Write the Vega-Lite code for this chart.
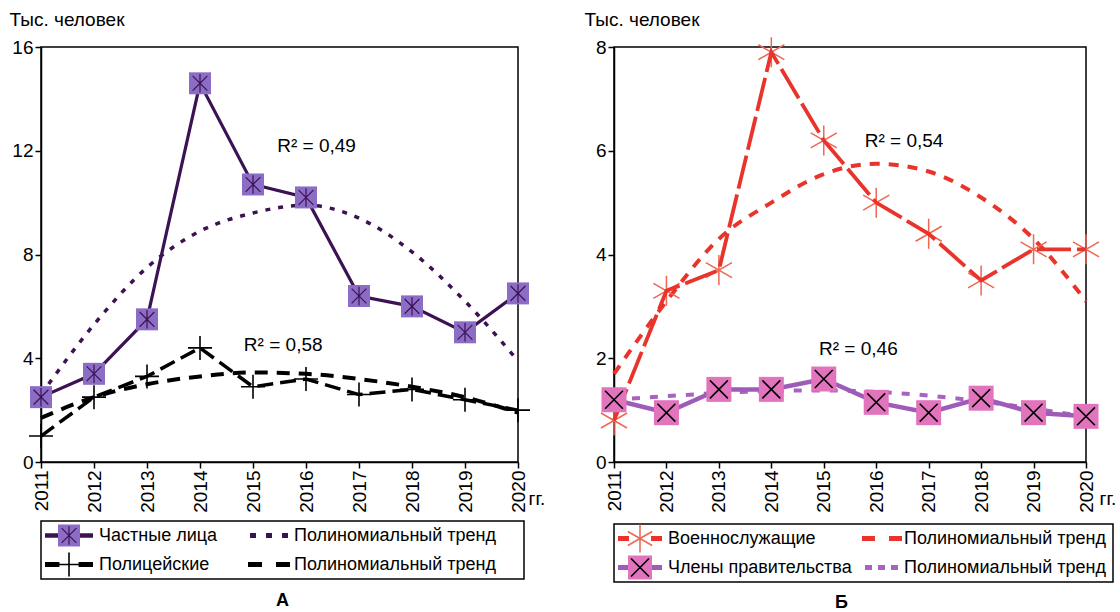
{
  "$schema": "https://vega.github.io/schema/vega-lite/v6.json",
  "background": "white",
  "padding": {"left": 8, "top": 9, "right": 0, "bottom": 0},
  "config": {
    "font": "Liberation Sans",
    "view": {"stroke": "black", "strokeWidth": 1.5},
    "axis": {
      "domainColor": "black", "domainWidth": 1.5,
      "tickColor": "black", "tickWidth": 1.5, "tickSize": 6,
      "labelColor": "black", "labelFontSize": 19, "labelPadding": 2, "labelFlush": false,
      "titleColor": "black", "titleFontSize": 19, "titleFontWeight": "normal",
      "grid": false
    },
    "text": {"font": "Liberation Sans", "color": "black"}
  },
  "datasets": {
    "panelA": [
      {"год": 2011, "ряд": "Частные лица", "тип": "данные", "значение": 2.5},
      {"год": 2012, "ряд": "Частные лица", "тип": "данные", "значение": 3.4},
      {"год": 2013, "ряд": "Частные лица", "тип": "данные", "значение": 5.5},
      {"год": 2014, "ряд": "Частные лица", "тип": "данные", "значение": 14.6},
      {"год": 2015, "ряд": "Частные лица", "тип": "данные", "значение": 10.7},
      {"год": 2016, "ряд": "Частные лица", "тип": "данные", "значение": 10.2},
      {"год": 2017, "ряд": "Частные лица", "тип": "данные", "значение": 6.4},
      {"год": 2018, "ряд": "Частные лица", "тип": "данные", "значение": 6.0},
      {"год": 2019, "ряд": "Частные лица", "тип": "данные", "значение": 5.0},
      {"год": 2020, "ряд": "Частные лица", "тип": "данные", "значение": 6.5},
      {"год": 2011, "ряд": "Частные лица", "тип": "тренд", "значение": 2.6},
      {"год": 2012, "ряд": "Частные лица", "тип": "тренд", "значение": 5.3},
      {"год": 2013, "ряд": "Частные лица", "тип": "тренд", "значение": 7.5},
      {"год": 2014, "ряд": "Частные лица", "тип": "тренд", "значение": 8.9},
      {"год": 2015, "ряд": "Частные лица", "тип": "тренд", "значение": 9.6},
      {"год": 2016, "ряд": "Частные лица", "тип": "тренд", "значение": 9.9},
      {"год": 2017, "ряд": "Частные лица", "тип": "тренд", "значение": 9.4},
      {"год": 2018, "ряд": "Частные лица", "тип": "тренд", "значение": 8.1},
      {"год": 2019, "ряд": "Частные лица", "тип": "тренд", "значение": 6.2},
      {"год": 2020, "ряд": "Частные лица", "тип": "тренд", "значение": 3.9},
      {"год": 2011, "ряд": "Полицейские", "тип": "данные", "значение": 1.0},
      {"год": 2012, "ряд": "Полицейские", "тип": "данные", "значение": 2.5},
      {"год": 2013, "ряд": "Полицейские", "тип": "данные", "значение": 3.3},
      {"год": 2014, "ряд": "Полицейские", "тип": "данные", "значение": 4.4},
      {"год": 2015, "ряд": "Полицейские", "тип": "данные", "значение": 2.9},
      {"год": 2016, "ряд": "Полицейские", "тип": "данные", "значение": 3.2},
      {"год": 2017, "ряд": "Полицейские", "тип": "данные", "значение": 2.6},
      {"год": 2018, "ряд": "Полицейские", "тип": "данные", "значение": 2.8},
      {"год": 2019, "ряд": "Полицейские", "тип": "данные", "значение": 2.4},
      {"год": 2020, "ряд": "Полицейские", "тип": "данные", "значение": 2.0},
      {"год": 2011, "ряд": "Полицейские", "тип": "тренд", "значение": 1.7},
      {"год": 2012, "ряд": "Полицейские", "тип": "тренд", "значение": 2.5},
      {"год": 2013, "ряд": "Полицейские", "тип": "тренд", "значение": 3.0},
      {"год": 2014, "ряд": "Полицейские", "тип": "тренд", "значение": 3.3},
      {"год": 2015, "ряд": "Полицейские", "тип": "тренд", "значение": 3.45},
      {"год": 2016, "ряд": "Полицейские", "тип": "тренд", "значение": 3.4},
      {"год": 2017, "ряд": "Полицейские", "тип": "тренд", "значение": 3.2},
      {"год": 2018, "ряд": "Полицейские", "тип": "тренд", "значение": 2.9},
      {"год": 2019, "ряд": "Полицейские", "тип": "тренд", "значение": 2.5},
      {"год": 2020, "ряд": "Полицейские", "тип": "тренд", "значение": 1.9}
    ],
    "panelB": [
      {"год": 2011, "ряд": "Военнослужащие", "тип": "данные", "значение": 0.8},
      {"год": 2012, "ряд": "Военнослужащие", "тип": "данные", "значение": 3.3},
      {"год": 2013, "ряд": "Военнослужащие", "тип": "данные", "значение": 3.7},
      {"год": 2014, "ряд": "Военнослужащие", "тип": "данные", "значение": 7.9},
      {"год": 2015, "ряд": "Военнослужащие", "тип": "данные", "значение": 6.2},
      {"год": 2016, "ряд": "Военнослужащие", "тип": "данные", "значение": 5.0},
      {"год": 2017, "ряд": "Военнослужащие", "тип": "данные", "значение": 4.4},
      {"год": 2018, "ряд": "Военнослужащие", "тип": "данные", "значение": 3.5},
      {"год": 2019, "ряд": "Военнослужащие", "тип": "данные", "значение": 4.1},
      {"год": 2020, "ряд": "Военнослужащие", "тип": "данные", "значение": 4.1},
      {"год": 2011, "ряд": "Военнослужащие", "тип": "тренд", "значение": 1.7},
      {"год": 2012, "ряд": "Военнослужащие", "тип": "тренд", "значение": 3.1},
      {"год": 2013, "ряд": "Военнослужащие", "тип": "тренд", "значение": 4.3},
      {"год": 2014, "ряд": "Военнослужащие", "тип": "тренд", "значение": 5.0},
      {"год": 2015, "ряд": "Военнослужащие", "тип": "тренд", "значение": 5.55},
      {"год": 2016, "ряд": "Военнослужащие", "тип": "тренд", "значение": 5.75},
      {"год": 2017, "ряд": "Военнослужащие", "тип": "тренд", "значение": 5.6},
      {"год": 2018, "ряд": "Военнослужащие", "тип": "тренд", "значение": 5.1},
      {"год": 2019, "ряд": "Военнослужащие", "тип": "тренд", "значение": 4.3},
      {"год": 2020, "ряд": "Военнослужащие", "тип": "тренд", "значение": 3.1},
      {"год": 2011, "ряд": "Члены правительства", "тип": "данные", "значение": 1.2},
      {"год": 2012, "ряд": "Члены правительства", "тип": "данные", "значение": 0.95},
      {"год": 2013, "ряд": "Члены правительства", "тип": "данные", "значение": 1.4},
      {"год": 2014, "ряд": "Члены правительства", "тип": "данные", "значение": 1.4},
      {"год": 2015, "ряд": "Члены правительства", "тип": "данные", "значение": 1.6},
      {"год": 2016, "ряд": "Члены правительства", "тип": "данные", "значение": 1.15},
      {"год": 2017, "ряд": "Члены правительства", "тип": "данные", "значение": 0.95},
      {"год": 2018, "ряд": "Члены правительства", "тип": "данные", "значение": 1.23},
      {"год": 2019, "ряд": "Члены правительства", "тип": "данные", "значение": 0.95},
      {"год": 2020, "ряд": "Члены правительства", "тип": "данные", "значение": 0.88},
      {"год": 2011, "ряд": "Члены правительства", "тип": "тренд", "значение": 1.2},
      {"год": 2012, "ряд": "Члены правительства", "тип": "тренд", "значение": 1.27},
      {"год": 2013, "ряд": "Члены правительства", "тип": "тренд", "значение": 1.33},
      {"год": 2014, "ряд": "Члены правительства", "тип": "тренд", "значение": 1.37},
      {"год": 2015, "ряд": "Члены правительства", "тип": "тренд", "значение": 1.38},
      {"год": 2016, "ряд": "Члены правительства", "тип": "тренд", "значение": 1.35},
      {"год": 2017, "ряд": "Члены правительства", "тип": "тренд", "значение": 1.28},
      {"год": 2018, "ряд": "Члены правительства", "тип": "тренд", "значение": 1.17},
      {"год": 2019, "ряд": "Члены правительства", "тип": "тренд", "значение": 1.03},
      {"год": 2020, "ряд": "Члены правительства", "тип": "тренд", "значение": 0.87}
    ],
    "notesA": [
      {"год": 2016.2, "значение": 12.2, "подпись": "R² = 0,49"},
      {"год": 2015.57, "значение": 4.5, "подпись": "R² = 0,58"}
    ],
    "notesB": [
      {"год": 2016.53, "значение": 6.19, "подпись": "R² = 0,54"},
      {"год": 2015.66, "значение": 2.18, "подпись": "R² = 0,46"}
    ],
    "legendA": [
      {"строка": "Частные лица", "вид": "ряд", "подпись": "Частные лица"},
      {"строка": "Частные лица", "вид": "тренд", "подпись": "Полиномиальный тренд"},
      {"строка": "Полицейские", "вид": "ряд", "подпись": "Полицейские"},
      {"строка": "Полицейские", "вид": "тренд", "подпись": "Полиномиальный тренд"}
    ],
    "legendB": [
      {"строка": "Военнослужащие", "вид": "ряд", "подпись": "Военнослужащие"},
      {"строка": "Военнослужащие", "вид": "тренд", "подпись": "Полиномиальный тренд"},
      {"строка": "Члены правительства", "вид": "ряд", "подпись": "Члены правительства"},
      {"строка": "Члены правительства", "вид": "тренд", "подпись": "Полиномиальный тренд"}
    ]
  },
  "spacing": 37,
  "hconcat": [
    {
      "vconcat": [
        {
          "width": 477,
          "height": 415,
          "data": {"name": "panelA"},
          "encoding": {
            "x": {
              "field": "год", "type": "quantitative",
              "scale": {"domain": [2011, 2020], "nice": false, "zero": false},
              "axis": {
                "values": [2011, 2012, 2013, 2014, 2015, 2016, 2017, 2018, 2019, 2020],
                "format": "d", "labelAngle": -90,
                "title": "гг.", "titleAngle": 0, "titleAlign": "left", "titleBaseline": "middle",
                "titleX": 487, "titleY": 36
              }
            },
            "y": {
              "field": "значение", "type": "quantitative",
              "scale": {"domain": [0, 16], "nice": false},
              "axis": {
                "values": [0, 4, 8, 12, 16],
                "title": "Тыс. человек", "titleAngle": 0, "titleAlign": "left", "titleBaseline": "middle",
                "titleX": -32, "titleY": -28
              }
            }
          },
          "layer": [
            {
              "transform": [{"filter": "datum['ряд'] === 'Частные лица' && datum['тип'] === 'тренд'"}],
              "mark": {"type": "line", "color": "#3c1253", "strokeWidth": 3.5, "strokeDash": [5, 8], "interpolate": "monotone"}
            },
            {
              "transform": [{"filter": "datum['ряд'] === 'Полицейские' && datum['тип'] === 'тренд'"}],
              "mark": {"type": "line", "color": "black", "strokeWidth": 4, "strokeDash": [13, 9], "interpolate": "monotone"}
            },
            {
              "transform": [{"filter": "datum['ряд'] === 'Частные лица' && datum['тип'] === 'данные'"}],
              "mark": {"type": "line", "color": "#3c1253", "strokeWidth": 3.2}
            },
            {
              "transform": [{"filter": "datum['ряд'] === 'Полицейские' && datum['тип'] === 'данные'"}],
              "mark": {"type": "line", "color": "black", "strokeWidth": 3.5, "strokeDash": [16, 7]}
            },
            {
              "transform": [{"filter": "datum['ряд'] === 'Частные лица' && datum['тип'] === 'данные'"}],
              "mark": {"type": "point", "shape": "square", "size": 484, "filled": true, "fill": "#8c6dc6", "opacity": 1, "strokeWidth": 0}
            },
            {
              "transform": [{"filter": "datum['ряд'] === 'Частные лица' && datum['тип'] === 'данные'"}],
              "mark": {"type": "point", "shape": "M0,-1L0,1M-0.8,-0.8L0.8,0.8M-0.8,0.8L0.8,-0.8", "size": 340, "filled": false, "stroke": "#3c1253", "strokeWidth": 1.2, "opacity": 1}
            },
            {
              "transform": [{"filter": "datum['ряд'] === 'Полицейские' && datum['тип'] === 'данные'"}],
              "mark": {"type": "point", "shape": "M-1,0L1,0M0,-1L0,1", "size": 576, "filled": false, "stroke": "black", "strokeWidth": 1.6, "opacity": 1}
            },
            {
              "data": {"name": "notesA"},
              "mark": {"type": "text", "fontSize": 19, "align": "center", "baseline": "middle"},
              "encoding": {"text": {"field": "подпись"}}
            }
          ]
        },
        {
          "width": 483,
          "height": 58,
          "data": {"name": "legendA"},
          "title": {"text": "А", "orient": "bottom", "anchor": "middle", "fontSize": 18, "fontWeight": "bold", "offset": 12, "color": "black"},
          "encoding": {
            "x": {"field": "вид", "type": "nominal", "scale": {"type": "point", "domain": ["ряд", "тренд"], "range": [28, 228], "padding": 0}, "axis": null},
            "y": {"field": "строка", "type": "nominal", "scale": {"type": "point", "domain": ["Частные лица", "Полицейские"], "padding": 0.5}, "axis": null}
          },
          "layer": [
            {
              "transform": [{"filter": "datum['строка'] === 'Частные лица' && datum['вид'] === 'ряд'"}],
              "mark": {"type": "point", "shape": "M-1,0L1,0", "size": 2304, "filled": false, "stroke": "#3c1253", "strokeWidth": 4.5, "opacity": 1}
            },
            {
              "transform": [{"filter": "datum['строка'] === 'Частные лица' && datum['вид'] === 'ряд'"}],
              "mark": {"type": "point", "shape": "square", "size": 484, "filled": true, "fill": "#8c6dc6", "opacity": 1, "strokeWidth": 0}
            },
            {
              "transform": [{"filter": "datum['строка'] === 'Частные лица' && datum['вид'] === 'ряд'"}],
              "mark": {"type": "point", "shape": "M0,-1L0,1M-0.8,-0.8L0.8,0.8M-0.8,0.8L0.8,-0.8", "size": 340, "filled": false, "stroke": "#3c1253", "strokeWidth": 1.2, "opacity": 1}
            },
            {
              "transform": [{"filter": "datum['строка'] === 'Частные лица' && datum['вид'] === 'тренд'"}],
              "mark": {"type": "point", "shape": "M-1,0L1,0", "size": 1444, "filled": false, "stroke": "#3c1253", "strokeWidth": 5, "strokeDash": [6, 10], "opacity": 1}
            },
            {
              "transform": [{"filter": "datum['строка'] === 'Полицейские' && datum['вид'] === 'ряд'"}],
              "mark": {"type": "point", "shape": "M-1,0L-0.4,0M0.4,0L1,0", "size": 2304, "filled": false, "stroke": "black", "strokeWidth": 5, "opacity": 1}
            },
            {
              "transform": [{"filter": "datum['строка'] === 'Полицейские' && datum['вид'] === 'ряд'"}],
              "mark": {"type": "point", "shape": "M-1,0L1,0M0,-1L0,1", "size": 576, "filled": false, "stroke": "black", "strokeWidth": 1.6, "opacity": 1}
            },
            {
              "transform": [{"filter": "datum['строка'] === 'Полицейские' && datum['вид'] === 'тренд'"}],
              "mark": {"type": "point", "shape": "M-1,0L1,0", "size": 1764, "filled": false, "stroke": "black", "strokeWidth": 5, "strokeDash": [14, 14], "opacity": 1}
            },
            {
              "transform": [{"filter": "datum['вид'] === 'ряд'"}],
              "mark": {"type": "text", "fontSize": 18, "align": "left", "baseline": "middle", "dx": 30},
              "encoding": {"text": {"field": "подпись"}}
            },
            {
              "transform": [{"filter": "datum['вид'] === 'тренд'"}],
              "mark": {"type": "text", "fontSize": 18, "align": "left", "baseline": "middle", "dx": 25},
              "encoding": {"text": {"field": "подпись"}}
            }
          ]
        }
      ],
      "spacing": 6
    },
    {
      "vconcat": [
        {
          "width": 472,
          "height": 415,
          "data": {"name": "panelB"},
          "encoding": {
            "x": {
              "field": "год", "type": "quantitative",
              "scale": {"domain": [2011, 2020], "nice": false, "zero": false},
              "axis": {
                "values": [2011, 2012, 2013, 2014, 2015, 2016, 2017, 2018, 2019, 2020],
                "format": "d", "labelAngle": -90,
                "title": "гг.", "titleAngle": 0, "titleAlign": "left", "titleBaseline": "middle",
                "titleX": 485, "titleY": 36
              }
            },
            "y": {
              "field": "значение", "type": "quantitative",
              "scale": {"domain": [0, 8], "nice": false},
              "axis": {
                "values": [0, 2, 4, 6, 8],
                "title": "Тыс. человек", "titleAngle": 0, "titleAlign": "left", "titleBaseline": "middle",
                "titleX": -30, "titleY": -28
              }
            }
          },
          "layer": [
            {
              "transform": [{"filter": "datum['ряд'] === 'Военнослужащие' && datum['тип'] === 'тренд'"}],
              "mark": {"type": "line", "color": "#e8342b", "strokeWidth": 4, "strokeDash": [10, 9], "interpolate": "monotone"}
            },
            {
              "transform": [{"filter": "datum['ряд'] === 'Члены правительства' && datum['тип'] === 'тренд'"}],
              "mark": {"type": "line", "color": "#a863c0", "strokeWidth": 4, "strokeDash": [8, 10], "interpolate": "monotone"}
            },
            {
              "transform": [{"filter": "datum['ряд'] === 'Военнослужащие' && datum['тип'] === 'данные'"}],
              "mark": {"type": "point", "shape": "M0,-1L0,1M-0.87,-0.5L0.87,0.5M-0.87,0.5L0.87,-0.5", "size": 900, "filled": false, "stroke": "#ef6652", "strokeWidth": 1.5, "opacity": 1}
            },
            {
              "transform": [{"filter": "datum['ряд'] === 'Военнослужащие' && datum['тип'] === 'данные'"}],
              "mark": {"type": "line", "color": "#e8342b", "strokeWidth": 3.8, "strokeDash": [34, 6]}
            },
            {
              "transform": [{"filter": "datum['ряд'] === 'Члены правительства' && datum['тип'] === 'данные'"}],
              "mark": {"type": "line", "color": "#9e5bb8", "strokeWidth": 4.5}
            },
            {
              "transform": [{"filter": "datum['ряд'] === 'Члены правительства' && datum['тип'] === 'данные'"}],
              "mark": {"type": "point", "shape": "square", "size": 625, "filled": true, "fill": "#e174bd", "opacity": 1, "strokeWidth": 0}
            },
            {
              "transform": [{"filter": "datum['ряд'] === 'Члены правительства' && datum['тип'] === 'данные'"}],
              "mark": {"type": "point", "shape": "M-1,-1L1,1M-1,1L1,-1", "size": 320, "filled": false, "stroke": "black", "strokeWidth": 1.6, "opacity": 1}
            },
            {
              "data": {"name": "notesB"},
              "mark": {"type": "text", "fontSize": 19, "align": "center", "baseline": "middle"},
              "encoding": {"text": {"field": "подпись"}}
            }
          ]
        },
        {
          "width": 499,
          "height": 58,
          "data": {"name": "legendB"},
          "title": {"text": "Б", "orient": "bottom", "anchor": "middle", "fontSize": 18, "fontWeight": "bold", "offset": 12, "color": "black", "dx": -22},
          "encoding": {
            "x": {"field": "вид", "type": "nominal", "scale": {"type": "point", "domain": ["ряд", "тренд"], "range": [26, 268], "padding": 0}, "axis": null},
            "y": {"field": "строка", "type": "nominal", "scale": {"type": "point", "domain": ["Военнослужащие", "Члены правительства"], "padding": 0.5}, "axis": null}
          },
          "layer": [
            {
              "transform": [{"filter": "datum['строка'] === 'Военнослужащие' && datum['вид'] === 'ряд'"}],
              "mark": {"type": "point", "shape": "M-1,0L-0.5,0M0.5,0L1,0", "size": 1936, "filled": false, "stroke": "#e8342b", "strokeWidth": 5, "opacity": 1}
            },
            {
              "transform": [{"filter": "datum['строка'] === 'Военнослужащие' && datum['вид'] === 'ряд'"}],
              "mark": {"type": "point", "shape": "M0,-1L0,1M-0.87,-0.5L0.87,0.5M-0.87,0.5L0.87,-0.5", "size": 784, "filled": false, "stroke": "#ef6652", "strokeWidth": 1.5, "opacity": 1}
            },
            {
              "transform": [{"filter": "datum['строка'] === 'Военнослужащие' && datum['вид'] === 'тренд'"}],
              "mark": {"type": "point", "shape": "M-1,0L1,0", "size": 1600, "filled": false, "stroke": "#e8342b", "strokeWidth": 5, "strokeDash": [13, 14], "opacity": 1}
            },
            {
              "transform": [{"filter": "datum['строка'] === 'Члены правительства' && datum['вид'] === 'ряд'"}],
              "mark": {"type": "point", "shape": "M-1,0L1,0", "size": 1936, "filled": false, "stroke": "#9e5bb8", "strokeWidth": 5, "opacity": 1}
            },
            {
              "transform": [{"filter": "datum['строка'] === 'Члены правительства' && datum['вид'] === 'ряд'"}],
              "mark": {"type": "point", "shape": "square", "size": 576, "filled": true, "fill": "#e174bd", "opacity": 1, "strokeWidth": 0}
            },
            {
              "transform": [{"filter": "datum['строка'] === 'Члены правительства' && datum['вид'] === 'ряд'"}],
              "mark": {"type": "point", "shape": "M-1,-1L1,1M-1,1L1,-1", "size": 324, "filled": false, "stroke": "black", "strokeWidth": 1.6, "opacity": 1}
            },
            {
              "transform": [{"filter": "datum['строка'] === 'Члены правительства' && datum['вид'] === 'тренд'"}],
              "mark": {"type": "point", "shape": "M-1,0L1,0", "size": 1156, "filled": false, "stroke": "#a863c0", "strokeWidth": 5, "strokeDash": [7, 6], "opacity": 1}
            },
            {
              "transform": [{"filter": "datum['вид'] === 'ряд'"}],
              "mark": {"type": "text", "fontSize": 18, "align": "left", "baseline": "middle", "dx": 28},
              "encoding": {"text": {"field": "подпись"}}
            },
            {
              "transform": [{"filter": "datum['вид'] === 'тренд'"}],
              "mark": {"type": "text", "fontSize": 18, "align": "left", "baseline": "middle", "dx": 22},
              "encoding": {"text": {"field": "подпись"}}
            }
          ]
        }
      ],
      "spacing": 6
    }
  ]
}
